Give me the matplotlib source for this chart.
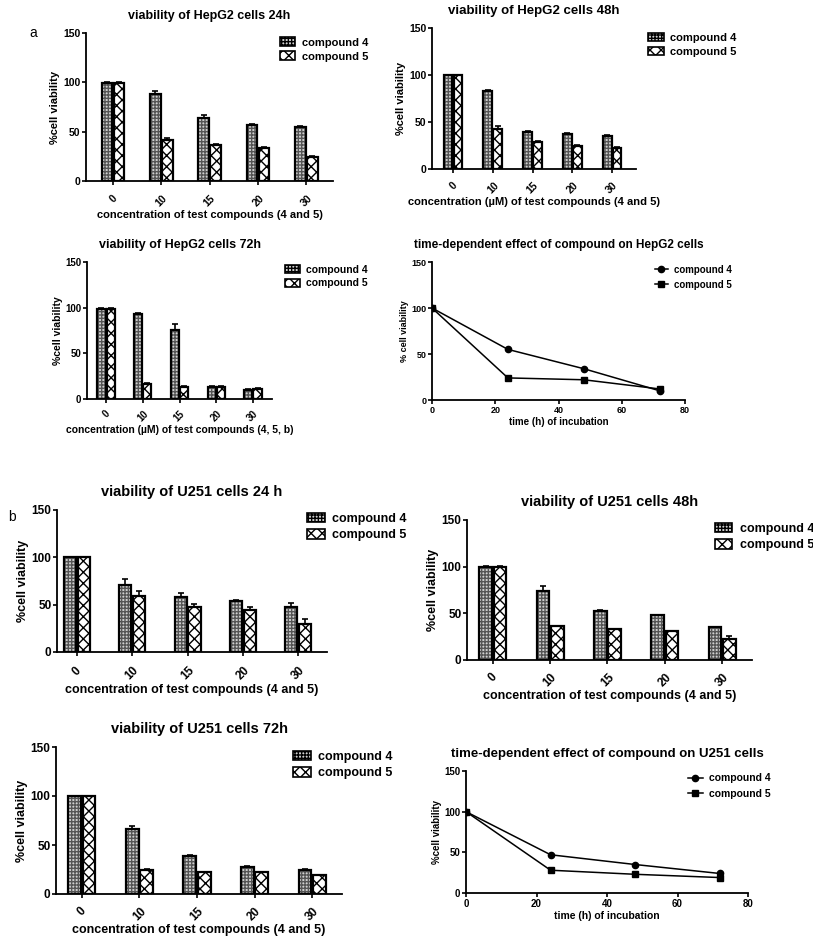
import numpy as np
import matplotlib.pyplot as plt

plt.rcParams['font.family'] = ['Liberation Sans', 'DejaVu Sans']
plt.rcParams['font.weight'] = 'bold'
plt.rcParams['hatch.linewidth'] = 1.0

conc = ['0', '10', '15', '20', '30']
hours = [0, 24, 48, 72]

# HepG2
hep24_c4 = [99, 88, 64, 57, 55]
hep24_c4_err = [1, 3, 3, 1, 1]
hep24_c5 = [99, 42, 36, 33, 24]
hep24_c5_err = [1, 2, 1, 1, 1]

hep48_c4 = [100, 83, 39, 37, 35]
hep48_c4_err = [0.5, 1.5, 1, 1, 1]
hep48_c5 = [100, 43, 29, 25, 22]
hep48_c5_err = [0.5, 3, 1, 0.5, 1.5]

hep72_c4 = [99, 93, 76, 13, 10]
hep72_c4_err = [1, 1, 6, 1, 0.5]
hep72_c5 = [99, 16, 13, 13, 11]
hep72_c5_err = [1, 1, 1, 1, 1]

hep_time_c4 = [100, 55, 34, 10]
hep_time_c5 = [100, 24, 22, 12]

# U251
u24_c4 = [100, 71, 58, 54, 48]
u24_c4_err = [0.5, 6, 4, 0.5, 4]
u24_c5 = [100, 59, 48, 44, 30]
u24_c5_err = [0.5, 5, 3, 4, 5]

u48_c4 = [100, 74, 53, 48, 35]
u48_c4_err = [0.5, 5, 0.5, 0.5, 0.5]
u48_c5 = [100, 36, 33, 31, 23]
u48_c5_err = [0.5, 0.5, 0.5, 0.5, 3]

u72_c4 = [100, 66, 39, 28, 25]
u72_c4_err = [0.5, 3, 0.5, 0.5, 0.5]
u72_c5 = [100, 25, 22, 22, 19]
u72_c5_err = [0.5, 1, 0.5, 0.5, 0.5]

u_time_c4 = [100, 47, 35, 24]
u_time_c5 = [100, 28, 23, 19]

W, H = 813, 936
fig = plt.figure(figsize=(W / 100, H / 100), dpi=100)


def px_axes(l, r, t, b):
    return fig.add_axes([l / W, 1 - b / H, (r - l) / W, (b - t) / H])


def style(ax, fs):
    ax.spines['top'].set_visible(False)
    ax.spines['right'].set_visible(False)
    ax.spines['left'].set_linewidth(1.3)
    ax.spines['bottom'].set_linewidth(1.3)
    ax.set_ylim(0, 150)
    ax.set_yticks([0, 50, 100, 150])
    ax.tick_params(direction='out', length=3, width=1.2, labelsize=fs, pad=1)
    for t in ax.get_yticklabels() + ax.get_xticklabels():
        t.set_fontweight('bold')


def hbar(ax, x, vals, err, w, face, hcol, hatch, label):
    # hatch layer, then black outline on top
    ax.bar(x, vals, w, color=face, edgecolor=hcol, linewidth=0, hatch=hatch)
    ax.bar(x, vals, w, fill=False, edgecolor='black', linewidth=1.6,
           yerr=[np.zeros(len(err)), err], capsize=2.5,
           error_kw=dict(elinewidth=1.2, capthick=1.2, ecolor='black'))
    # legend proxy
    ax.bar([0], [0], 0, color=face, edgecolor='black', hatch=hatch, linewidth=1.2, label=label)


def bar_panel(box, c4, e4, c5, e5, title, xlabel, leg, xlim, fs=7.5, tfs=9.5, xpad=4):
    ax = px_axes(*box)
    x = np.arange(len(conc))
    w = 0.22
    hbar(ax, x - 0.125, c4, e4, w, '#d0d0d0', '#555555', '+++++', 'compound 4')
    hbar(ax, x + 0.125, c5, e5, w, 'white', 'black', 'xxx', 'compound 5')
    ax.set_xlim(*xlim)
    ax.set_xticks(x)
    ax.set_xticklabels(conc, rotation=45)
    style(ax, fs)
    ax.tick_params(axis='x', pad=xpad)
    ax.set_ylabel('%cell viability', fontsize=fs + 0.5, fontweight='bold', labelpad=2)
    ax.set_xlabel(xlabel, fontsize=fs + 0.5, fontweight='bold', labelpad=1)
    ax.set_title(title, fontsize=tfs, fontweight='bold', pad=10)
    ax.legend(loc='upper left', bbox_to_anchor=leg, frameon=False,
              fontsize=fs + 0.5, borderaxespad=0, borderpad=0,
              handlelength=1.4, handleheight=0.8, handletextpad=0.6,
              labelspacing=0.35)
    return ax


def line_panel(box, c4, c5, title, ylabel, leg, fs=6.5, tfs=8.5):
    ax = px_axes(*box)
    ax.plot(hours, c4, '-o', color='black', lw=1.1, ms=4.5, label='compound 4')
    ax.plot(hours, c5, '-s', color='black', lw=1.1, ms=4.5, label='compound 5')
    ax.set_xlim(0, 80)
    ax.set_xticks([0, 20, 40, 60, 80])
    style(ax, fs)
    ax.set_ylabel(ylabel, fontsize=fs, fontweight='bold', labelpad=2)
    ax.set_xlabel('time (h) of incubation', fontsize=fs + 0.5, fontweight='bold', labelpad=2)
    ax.set_title(title, fontsize=tfs, fontweight='bold', pad=10)
    ax.legend(loc='upper left', bbox_to_anchor=leg, frameon=False,
              fontsize=fs + 0.5, borderaxespad=0, borderpad=0,
              handlelength=1.4, handletextpad=0.6, labelspacing=0.5)
    return ax


bar_panel((86, 333, 33, 181), hep24_c4, hep24_c4_err, hep24_c5, hep24_c5_err,
          'viability of HepG2 cells 24h', 'concentration of test compounds (4 and 5)',
          (0.785, 0.97), (-0.56, 4.55), fs=7.5, tfs=9, xpad=6)
bar_panel((432, 636, 28, 169), hep48_c4, hep48_c4_err, hep48_c5, hep48_c5_err,
          'viability of HepG2 cells 48h', 'concentration (\u00b5M) of test compounds (4 and 5)',
          (1.06, 0.965), (-0.53, 4.6), fs=7.5, tfs=9.5, xpad=5)
bar_panel((87, 272, 262, 399), hep72_c4, hep72_c4_err, hep72_c5, hep72_c5_err,
          'viability of HepG2 cells 72h', 'concentration (\u00b5M) of test compounds (4, 5, b)',
          (1.07, 0.98), (-0.52, 4.52), fs=7, tfs=9, xpad=4)
line_panel((432, 685, 262, 400), hep_time_c4, hep_time_c5,
           'time-dependent effect of compound on HepG2 cells', '% cell viability',
           (0.88, 0.98))

bar_panel((57, 327, 510, 652), u24_c4, u24_c4_err, u24_c5, u24_c5_err,
          'viability of U251 cells 24 h', 'concentration of test compounds (4 and 5)',
          (0.926, 0.98), (-0.36, 4.52), fs=8.5, tfs=10.5, xpad=6)
bar_panel((467, 752, 520, 660), u48_c4, u48_c4_err, u48_c5, u48_c5_err,
          'viability of U251 cells 48h', 'concentration of test compounds (4 and 5)',
          (0.87, 0.98), (-0.45, 4.52), fs=8.5, tfs=10.5, xpad=5)
bar_panel((56, 342, 747, 894), u72_c4, u72_c4_err, u72_c5, u72_c5_err,
          'viability of U251 cells 72h', 'concentration of test compounds (4 and 5)',
          (0.829, 0.975), (-0.45, 4.52), fs=8.5, tfs=10.5, xpad=5)
line_panel((466, 748, 771, 893), u_time_c4, u_time_c5,
           'time-dependent effect of compound on U251 cells', '%cell viability',
           (0.787, 0.98), fs=7, tfs=9.5)

fig.text(33 / W, 1 - 33 / H, 'a', fontsize=10, fontweight='normal', ha='center', va='center')
fig.text(12 / W, 1 - 517 / H, 'b', fontsize=10, fontweight='normal', ha='center', va='center')

fig.savefig('out.png', dpi=100)
